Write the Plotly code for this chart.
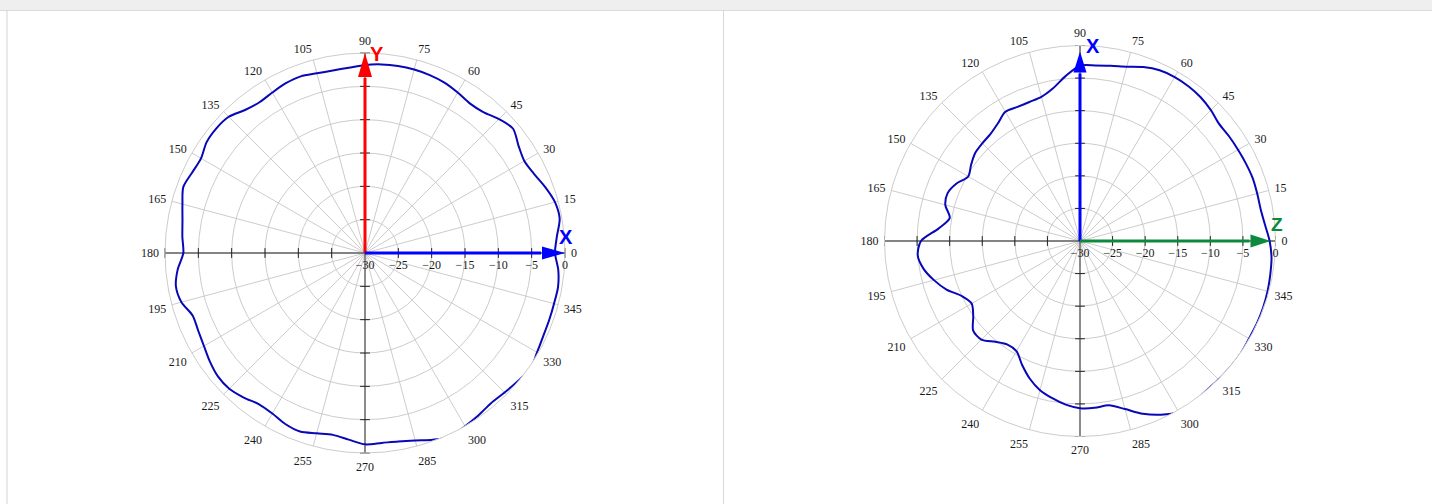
import plotly.graph_objects as go

W, H = 1432, 504

# ---------------- data ----------------
angles = list(range(0, 360, 5))

left_db = [
    -1.5, -1.1, -0.35, -0.5, -1.2, -2.0, -2.4, -1.9, -1.0, -1.6,   # 0-45
    -2.4, -2.6, -2.2, -1.8, -1.6, -1.5, -1.5, -1.6, -1.8, -2.1,    # 50-95
    -2.2, -2.1, -1.8, -1.9, -2.2, -2.4, -2.0, -1.1, -0.9, -1.0,    # 100-145
    -1.6, -1.4, -1.0, -1.65, -2.2, -2.5, -2.75, -1.8, -1.2, -1.5,  # 150-195
    -2.5, -2.4, -2.1, -1.6, -1.2, -1.2, -1.7, -2.3, -2.2, -1.7,    # 200-245
    -1.5, -2.0, -2.3, -1.9, -1.3, -1.4, -1.3, -0.9, -0.2, 0.4,     # 250-295
    0.0, -0.3, -0.6, -0.4, -0.1, 0.3, -0.2, -0.5, -0.6, -0.65,     # 300-345
    -0.6, -0.9,                                                    # 350-355
]

right_db = [
    -0.9, -1.5, -1.85, -1.85, -1.8, -1.9, -2.0, -2.05, -2.1, -1.6,   # 0-45
    -1.2, -1.0, -0.95, -1.1, -1.6, -2.3, -2.7, -2.95, -3.1, -4.6,    # 50-95
    -6.2, -7.1, -7.3, -7.3, -7.1, -8.0, -8.6, -8.8, -9.0, -9.6,      # 100-145
    -10.2, -9.1, -8.4, -8.6, -9.7, -8.2, -5.6, -5.0, -5.6, -6.8,     # 150-195
    -8.2, -10.0, -10.8, -10.0, -8.6, -8.6, -9.8, -10.6, -10.5, -9.0, # 200-245
    -7.5, -6.3, -5.5, -4.8, -4.35, -4.3, -4.4, -3.3, -1.8, -0.6,     # 250-295
    0.3, 0.3, 0.05, 0.05, 0.1, 0.1, -0.05, -0.05, -0.1, -0.2,        # 300-345
    -0.35, -0.5,                                                     # 350-355
]

radial_ticks = [-30, -25, -20, -15, -10, -5, 0]
axis_tick_r = [-25, -20, -15, -10, -5, 0]
angular_ticks = list(range(0, 360, 15))
angular_labels = [str(a) for a in angular_ticks]

# ---------------- geometry (layout only) ----------------
LEFT = dict(cx=365, cy=253, R=200)
RIGHT = dict(cx=1080, cy=241, R=195.5)

GRID = "#cccccc"
TXT = "#1a1a1a"
SERIF = "Liberation Serif"


def px(x):
    return x / W


def py(y):
    return 1 - y / H


def domain(g):
    return dict(x=[px(g["cx"] - g["R"]), px(g["cx"] + g["R"])],
                y=[py(g["cy"] + g["R"]), py(g["cy"] - g["R"])])


def polar_layout(g):
    return dict(
        domain=domain(g),
        bgcolor="white",
        radialaxis=dict(range=[-30, 0], tickmode="array", tickvals=radial_ticks,
                        angle=0, side="clockwise", showline=False,
                        ticks="outside", ticklen=1, tickcolor="rgba(0,0,0,0)",
                        gridcolor=GRID, gridwidth=1, tickangle=0,
                        tickfont=dict(family=SERIF, size=12, color=TXT)),
        angularaxis=dict(rotation=0, direction="counterclockwise",
                         tickmode="array", tickvals=angular_ticks, ticktext=angular_labels,
                         showline=True, linecolor=GRID, linewidth=1,
                         gridcolor=GRID, gridwidth=1,
                         ticks="outside", ticklen=3, tickcolor="rgba(0,0,0,0)",
                         tickfont=dict(family=SERIF, size=12, color=TXT)),
    )


fig = go.Figure()


def add_axes(sub):
    # black cross axes through the centre
    fig.add_trace(go.Scatterpolar(r=[0, -30, 0], theta=[180, 180, 0], mode="lines",
                                  line=dict(color="#222", width=1), subplot=sub,
                                  hoverinfo="skip", showlegend=False))
    fig.add_trace(go.Scatterpolar(r=[0, -30, 0], theta=[90, 90, 270], mode="lines",
                                  line=dict(color="#333", width=1), subplot=sub,
                                  hoverinfo="skip", showlegend=False))
    # small tick marks along the axes
    fig.add_trace(go.Scatterpolar(r=axis_tick_r * 2, theta=[0] * 6 + [180] * 6, mode="markers",
                                  marker=dict(symbol="line-ns", size=7,
                                              line=dict(color="#222", width=1)),
                                  subplot=sub, hoverinfo="skip", showlegend=False))
    fig.add_trace(go.Scatterpolar(r=axis_tick_r * 2, theta=[90] * 6 + [270] * 6, mode="markers",
                                  marker=dict(symbol="line-ew", size=7,
                                              line=dict(color="#222", width=1)),
                                  subplot=sub, hoverinfo="skip", showlegend=False))


def add_curve(sub, vals):
    fig.add_trace(go.Scatterpolar(r=vals + [vals[0]], theta=angles + [360], mode="lines",
                                  line=dict(color="#0808b8", width=2, shape="spline", smoothing=0.8),
                                  subplot=sub, hoverinfo="skip", showlegend=False))


add_axes("polar")
add_curve("polar", left_db)
add_axes("polar2")
add_curve("polar2", right_db)

shapes = []
annotations = []


def arrow(g, direction, color, tip_in, head_len, half_w):
    cx, cy, R = g["cx"], g["cy"], g["R"]
    if direction == "up":
        tx, ty = cx, cy - R + tip_in
        bx, by = cx, ty + head_len
        shapes.append(dict(type="line", xref="paper", yref="paper",
                           x0=px(cx), y0=py(cy), x1=px(bx), y1=py(by + 1),
                           line=dict(color=color, width=3), layer="above"))
        path = (f"M {px(tx)} {py(ty)} L {px(bx - half_w)} {py(by)} "
                f"L {px(bx + half_w)} {py(by)} Z")
    else:
        tx, ty = cx + R - tip_in, cy
        bx, by = tx - head_len, cy
        shapes.append(dict(type="line", xref="paper", yref="paper",
                           x0=px(cx), y0=py(cy), x1=px(bx - 1), y1=py(by),
                           line=dict(color=color, width=3), layer="above"))
        path = (f"M {px(tx)} {py(ty)} L {px(bx)} {py(by - half_w)} "
                f"L {px(bx)} {py(by + half_w)} Z")
    shapes.append(dict(type="path", xref="paper", yref="paper", path=path,
                       fillcolor=color, line=dict(color=color, width=0), layer="above"))


def label(x, y, text, color, size=20):
    annotations.append(dict(x=px(x), y=py(y), xref="paper", yref="paper", text=text,
                            showarrow=False, xanchor="center", yanchor="middle",
                            font=dict(family="Liberation Sans", size=size, color=color,
                                      weight="bold")))


arrow(LEFT, "up", "#ff0000", 0, 24, 7)
arrow(LEFT, "right", "#0000ff", 0, 23, 6.5)
label(377, 54, "Y", "#ff0000")
label(566, 237, "X", "#0000ff")

arrow(RIGHT, "up", "#0000ff", 6, 21, 6.5)
arrow(RIGHT, "right", "#0b8a3e", 5, 20, 6.5)
label(1093, 46, "X", "#0000ff")
label(1277, 224, "Z", "#0b8a3e", 19)

# page frame
shapes.insert(0, dict(type="rect", xref="paper", yref="paper", x0=0, x1=1, y0=py(10), y1=1,
                      fillcolor="#efefef", line=dict(width=0), layer="below"))
shapes.insert(1, dict(type="line", xref="paper", yref="paper", x0=0, x1=1, y0=py(10.5), y1=py(10.5),
                      line=dict(color="#dadada", width=1), layer="below"))
shapes.insert(2, dict(type="line", xref="paper", yref="paper", x0=px(7), x1=px(7), y0=0, y1=py(10.5),
                      line=dict(color="#d4d4d4", width=1), layer="below"))
shapes.insert(3, dict(type="line", xref="paper", yref="paper", x0=px(723.5), x1=px(723.5), y0=0,
                      y1=py(10.5), line=dict(color="#d8d8d8", width=1), layer="below"))

fig.update_layout(
    width=W, height=H,
    margin=dict(l=0, r=0, t=0, b=0),
    paper_bgcolor="white",
    showlegend=False,
    hovermode=False,
    polar=polar_layout(LEFT),
    polar2=polar_layout(RIGHT),
    shapes=shapes,
    annotations=annotations,
)

fig.write_html("out.html", config={"displayModeBar": False},
               post_script="document.body.style.margin='0px';document.body.style.overflow='hidden';")
